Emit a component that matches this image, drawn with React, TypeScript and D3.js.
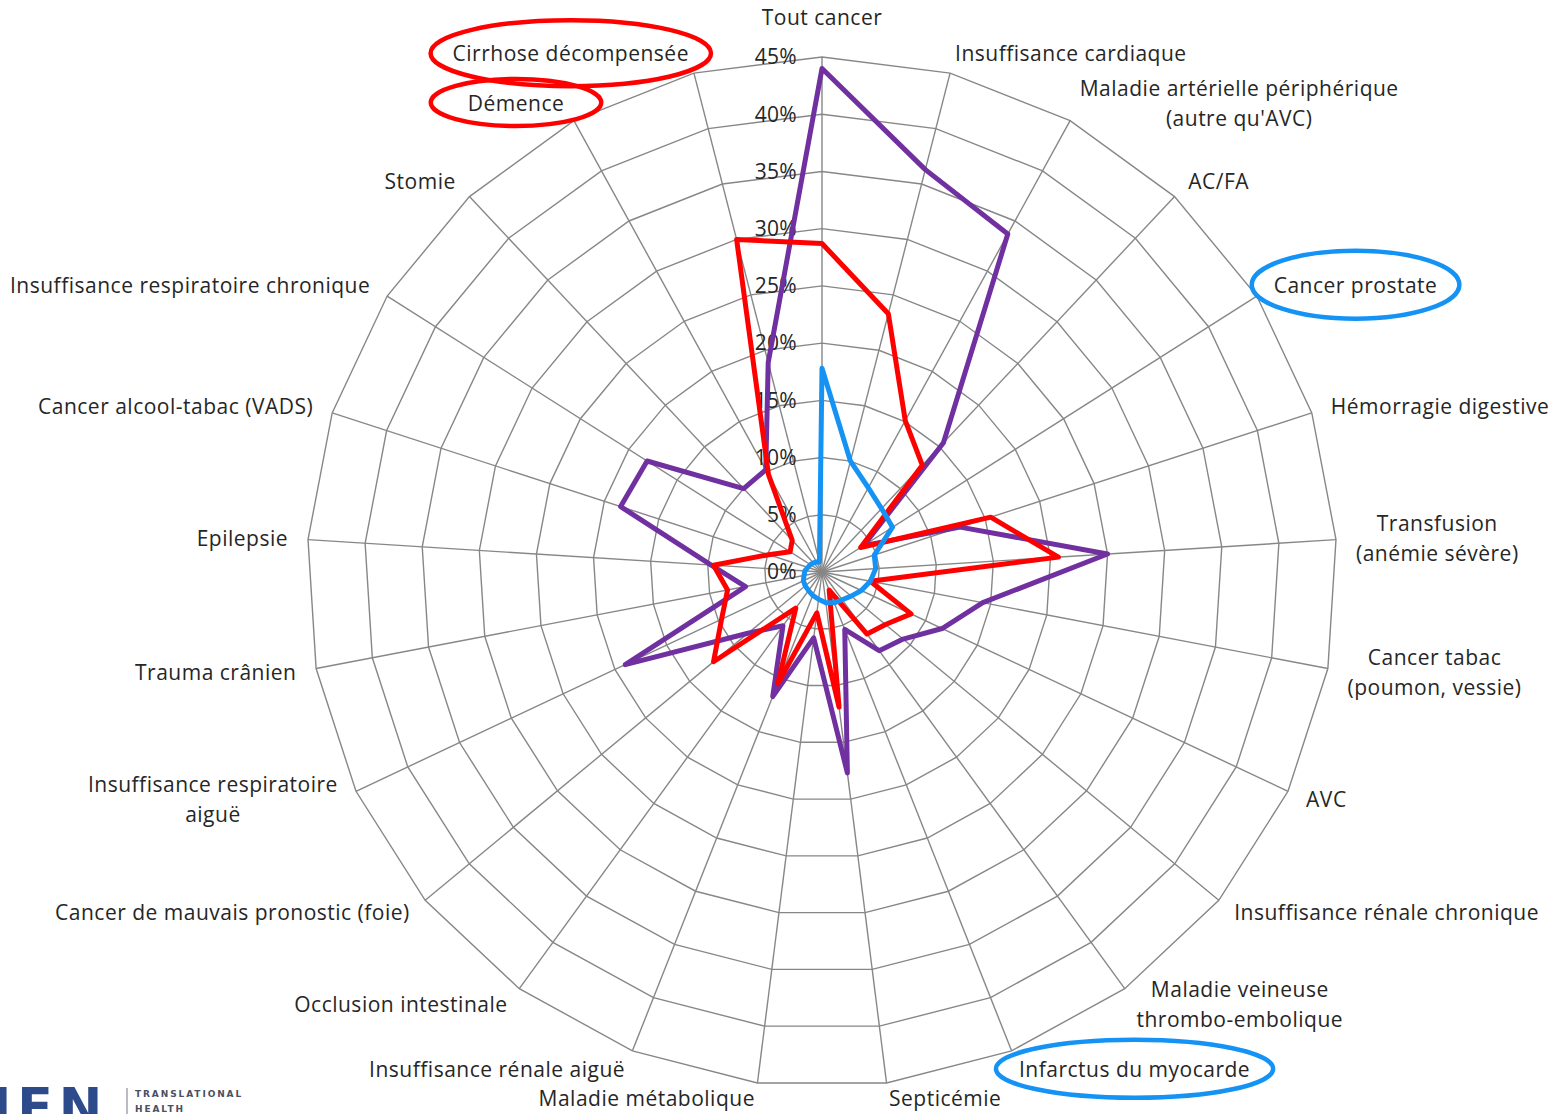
import React, { useEffect, useRef } from "react";
import * as d3 from "d3";

// categories, clockwise from the top (multi-line labels are split)
const categories: string[][] = [
  ["Tout cancer"],
  ["Insuffisance cardiaque"],
  ["Maladie artérielle périphérique", "(autre qu'AVC)"],
  ["AC/FA"],
  ["Cancer prostate"],
  ["Hémorragie digestive"],
  ["Transfusion", "(anémie sévère)"],
  ["Cancer tabac", "(poumon, vessie)"],
  ["AVC"],
  ["Insuffisance rénale chronique"],
  ["Maladie veineuse", "thrombo-embolique"],
  ["Infarctus du myocarde"],
  ["Septicémie"],
  ["Maladie métabolique"],
  ["Insuffisance rénale aiguë"],
  ["Occlusion intestinale"],
  ["Cancer de mauvais pronostic (foie)"],
  ["Insuffisance respiratoire", "aiguë"],
  ["Trauma crânien"],
  ["Epilepsie"],
  ["Cancer alcool-tabac (VADS)"],
  ["Insuffisance respiratoire chronique"],
  ["Stomie"],
  ["Démence"],
  ["Cirrhose décompensée"],
];

// values in %
const purpleValues = [
  44, 36.3, 33.7, 15.5, 4.3, 12.7, 25, 14.3, 11.6, 9.2, 8.5, 5.4, 17.7, 5.8,
  11.7, 5.8, 8.4, 19, 6.8, 9.7, 18.5, 18.1, 10, 10.2, 18.9,
];
const redValues = [
  28.7, 23.3, 15.1, 12.8, 4.0, 15.5, 20.7, 4.3, 8.6, 7.2, 6.7, 1.7, 11.9, 3.6,
  10.5, 3.9, 12.3, 9.7, 8.4, 9.5, 4.9, 3.3, 3.8, 9.7, 30,
];
const blueValues = [
  17.8, 10, 8.4, 7.6, 7.3, 4.8, 4.7, 4.3, 3.8, 3.3, 3.0, 2.9, 2.7, 2.4, 2.2,
  2.0, 1.9, 1.8, 1.6, 1.5, 1.3, 1.2, 1.1, 1.0, 0.9,
];

const tickValues = [0, 5, 10, 15, 20, 25, 30, 35, 40, 45];
const tickLabels = ["0%", "5%", "10%", "15%", "20%", "25%", "30%", "35%", "40%", "45%"];

// circled labels
const highlights = [
  { label: "Cirrhose décompensée", color: "#ff0000", padX: 22, ry: 33 },
  { label: "Démence", color: "#ff0000", padX: 37, ry: 23.5 },
  { label: "Cancer prostate", color: "#1593f5", padX: 22, ry: 34 },
  { label: "Infarctus du myocarde", color: "#1593f5", padX: 23, ry: 29 },
];

const W = 1560;
const H = 1114;
const FONT = "'Open Sans', sans-serif";

export default function App() {
  const svgRef = useRef<SVGSVGElement | null>(null);

  useEffect(() => {
    const svg = d3.select(svgRef.current);
    svg.selectAll("*").remove();

    const cx = 822;
    const cy = 572;
    const R = 515;
    const n = categories.length;

    const angle = d3.scaleLinear().domain([0, n]).range([0, 2 * Math.PI]);
    const r = d3.scaleLinear().domain([0, 45]).range([0, R]);

    const g = svg.append("g").attr("transform", `translate(${cx},${cy})`);

    // --- grid -------------------------------------------------------------
    const idx = d3.range(n);
    const ring = (t: number) =>
      d3
        .lineRadial<number>()
        .angle((i) => angle(i))
        .radius(() => r(t))
        .curve(d3.curveLinearClosed)(idx);

    g.selectAll("path.ring")
      .data(tickValues.filter((t) => t > 0))
      .join("path")
      .attr("class", "ring")
      .attr("d", (t) => ring(t))
      .attr("fill", "none")
      .attr("stroke", "#878787")
      .attr("stroke-width", 1.4);

    g.selectAll("line.spoke")
      .data(idx)
      .join("line")
      .attr("class", "spoke")
      .attr("x1", 0)
      .attr("y1", 0)
      .attr("x2", (i) => d3.pointRadial(angle(i), R)[0])
      .attr("y2", (i) => d3.pointRadial(angle(i), R)[1])
      .attr("stroke", "#878787")
      .attr("stroke-width", 1.4);

    // --- tick labels ------------------------------------------------------
    g.selectAll("text.tick")
      .data(tickValues)
      .join("text")
      .attr("class", "tick")
      .attr("x", -25)
      .attr("y", (t) => -r(t))
      .attr("dy", "0.35em")
      .attr("text-anchor", "end")
      .attr("font-family", FONT)
      .attr("font-size", 21)
      .attr("letter-spacing", 0.3)
      .attr("fill", "#262626")
      .text((_, i) => tickLabels[i]);

    // --- series -----------------------------------------------------------
    const seriesLine = d3
      .lineRadial<number>()
      .angle((_, i) => angle(i))
      .radius((d) => r(d))
      .curve(d3.curveLinearClosed);

    const series = [
      { values: purpleValues, color: "#7030a0" },
      { values: redValues, color: "#ff0000" },
      { values: blueValues, color: "#1593f5" },
    ];

    g.selectAll("path.series")
      .data(series)
      .join("path")
      .attr("class", "series")
      .attr("d", (s) => seriesLine(s.values))
      .attr("fill", "none")
      .attr("stroke", (s) => s.color)
      .attr("stroke-width", 5)
      .attr("stroke-linejoin", "round");

    // --- category labels --------------------------------------------------
    const lineH = 30;
    const labelNodes: Record<string, SVGGElement> = {};
    categories.forEach((lines, i) => {
      const a = angle(i);
      const [ax, ay] = d3.pointRadial(a, R + 20);
      const s = Math.sin(a);
      const lg = g.append("g");
      const texts = lines.map((ln) =>
        lg
          .append("text")
          .attr("font-family", FONT)
          .attr("font-size", 21)
          .attr("letter-spacing", 0.5)
          .attr("fill", "#262626")
          .attr("text-anchor", "start")
          .text(ln)
      );
      const widths = texts.map((t) => (t.node() as SVGTextElement).getComputedTextLength());
      const maxW = d3.max(widths) ?? 0;
      const left = Math.abs(s) < 0.01 ? ax - maxW / 2 : s > 0 ? ax : ax - maxW;
      let midY = Math.abs(s) < 0.01 && Math.cos(a) > 0 ? ay - 19 : ay;
      // keep the bottom labels inside the picture
      midY = Math.min(midY, H - cy - 15 - ((lines.length - 1) * lineH) / 2);
      texts.forEach((t, k) => {
        t.attr("x", left + (maxW - widths[k]) / 2)
          .attr("y", midY + (k - (lines.length - 1) / 2) * lineH)
          .attr("dy", "0.35em");
      });
      labelNodes[lines.join(" ")] = lg.node() as SVGGElement;
    });

    // --- highlight ellipses ------------------------------------------------
    highlights.forEach((h) => {
      const node = labelNodes[h.label];
      if (!node) return;
      const b = node.getBBox();
      g.append("ellipse")
        .attr("cx", b.x + b.width / 2)
        .attr("cy", b.y + b.height / 2)
        .attr("rx", b.width / 2 + h.padX)
        .attr("ry", h.ry)
        .attr("fill", "none")
        .attr("stroke", h.color)
        .attr("stroke-width", 4.5);
    });

    // --- logo (cropped at bottom-left) -------------------------------------
    const logo = svg.append("g");
    logo
      .append("text")
      .attr("x", -8)
      .attr("y", 1125)
      .attr("font-family", "'DejaVu Sans', sans-serif")
      .attr("font-weight", 900)
      .attr("font-size", 52)
      .attr("letter-spacing", 6)
      .attr("fill", "#2d4a8a")
      .text("IEN");
    logo
      .append("line")
      .attr("x1", 127)
      .attr("x2", 127)
      .attr("y1", 1088)
      .attr("y2", H)
      .attr("stroke", "#8a8fa0")
      .attr("stroke-width", 1.2);
    logo
      .selectAll("text.sub")
      .data(["TRANSLATIONAL", "HEALTH"])
      .join("text")
      .attr("class", "sub")
      .attr("x", 135)
      .attr("y", (_, k) => 1097 + k * 15)
      .attr("font-family", "'DejaVu Sans', sans-serif")
      .attr("font-weight", 700)
      .attr("font-size", 9)
      .attr("letter-spacing", 1.9)
      .attr("fill", "#4a4f63")
      .text((d) => d);
  }, []);

  return (
    <div style={{ position: "absolute", left: 0, top: 0 }}>
      <svg ref={svgRef} width={W} height={H} style={{ display: "block", background: "#fff" }} />
    </div>
  );
}
